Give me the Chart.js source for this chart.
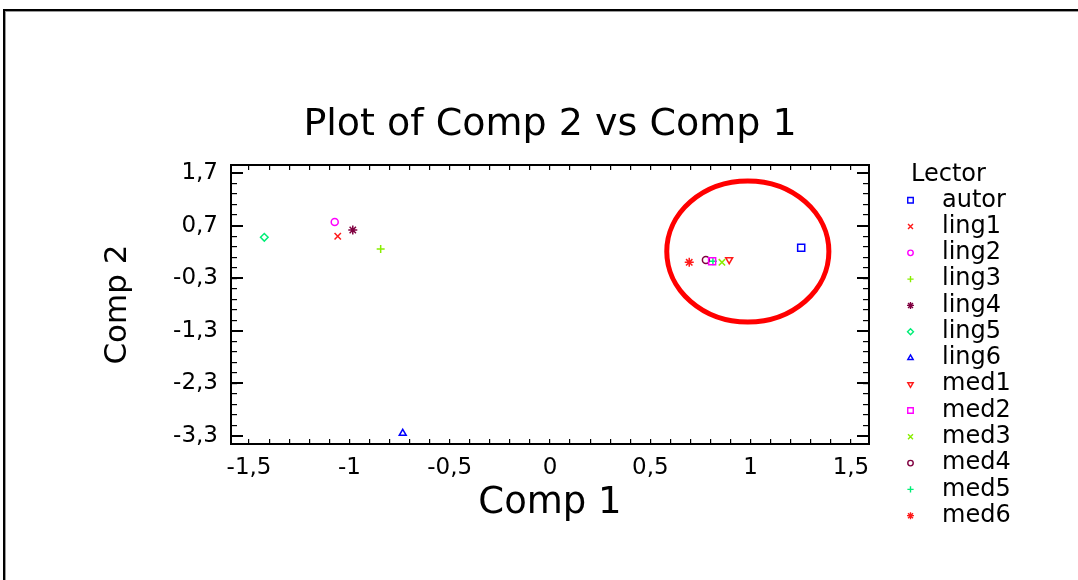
<!DOCTYPE html>
<html><head><meta charset="utf-8">
<script src="https://cdn.jsdelivr.net/npm/chart.js@4/dist/chart.umd.min.js"></script>
<style>html,body{margin:0;padding:0;background:#fff;overflow:hidden}#wrap{position:relative;width:1078px;height:580px}</style>
</head><body><div id="wrap"><canvas id="c" width="1078" height="580"></canvas></div>
<script>
// ---- data ----
const seriesLabels = ['autor','ling1','ling2','ling3','ling4','ling5','ling6','med1','med2','med3','med4','med5','med6'];
const comp1 = [1.252, -1.058, -1.073, -0.844, -0.983, -1.424, -0.734, 0.893, 0.808, 0.857, 0.777, 0.812, 0.694];
const comp2 = [0.280, 0.497, 0.768, 0.255, 0.616, 0.478, -3.249, 0.052, 0.021, 0.002, 0.046, 0.024, 0.002];
const xTickValues = [-1.5, -1, -0.5, 0, 0.5, 1, 1.5];
const yTickValues = [1.7, 0.7, -0.3, -1.3, -2.3, -3.3];
const highlightEllipse = {cx: 0.986, cy: 0.208, rx: 0.404, ry: 1.34};

// ---- styles ----
const seriesColors = ['#0000ff','#ff1a1a','#ff00ff','#88ee00','#800040','#00ee77','#0000ff','#ff1a1a','#ff00ff','#88ee00','#800040','#00ee77','#ff1a1a'];
const seriesMarkers = ['rect','crossRot','circle','cross','star','rectRot','triangle','triangle','rect','crossRot','circle','cross','star'];
const markerRotation = [0,0,0,0,0,0,0,180,0,0,0,0,0];
const markerRadius = [5,4.5,3.5,4,4.5,3.8,4,4,5,4.5,3.5,4,4.5];

const FONT = '"DejaVu Sans", "Liberation Sans", Arial, sans-serif';

const datasets = seriesLabels.map((lab, i) => ({
  label: lab,
  data: [{x: comp1[i], y: comp2[i]}],
  pointStyle: seriesMarkers[i],
  rotation: markerRotation[i],
  pointRadius: markerRadius[i],
  pointHoverRadius: markerRadius[i],
  borderColor: seriesColors[i],
  backgroundColor: 'rgba(0,0,0,0)',
  pointBorderWidth: 1.5
}));

const xMinor = []; for (let i = -15; i <= 15; i++) xMinor.push(i / 10);
const yMinor = []; for (let i = 17; i >= -33; i -= 2) yMinor.push(i / 10);
const fmt = v => String(Math.round(v * 10) / 10).replace('.', ',');
const isMajorX = v => xTickValues.some(t => Math.abs(t - v) < 1e-6);

const frame = {
  id: 'frame',
  beforeDraw(chart) {
    const ctx = chart.ctx;
    ctx.save();
    ctx.fillStyle = '#fff';
    ctx.fillRect(0, 0, chart.width, chart.height);
    ctx.fillStyle = '#000';
    ctx.fillRect(3, 9, chart.width - 3, 2);
    ctx.fillRect(3, 9, 2, chart.height - 9);
    ctx.fillStyle = '#9a9a9a';
    ctx.fillRect(5, 11, chart.width - 5, 1);
    ctx.fillRect(5, 11, 1, chart.height - 11);
    ctx.restore();
  }
};

const ellipsePlugin = {
  id: 'ellipse',
  afterDatasetsDraw(chart) {
    const xs = chart.scales.x, ys = chart.scales.y, ctx = chart.ctx;
    const cx = xs.getPixelForValue(highlightEllipse.cx);
    const cy = ys.getPixelForValue(highlightEllipse.cy);
    const rx = Math.abs(xs.getPixelForValue(highlightEllipse.cx + highlightEllipse.rx) - cx);
    const ry = Math.abs(ys.getPixelForValue(highlightEllipse.cy + highlightEllipse.ry) - cy);
    ctx.save();
    ctx.strokeStyle = '#ff0000';
    ctx.lineWidth = 5;
    ctx.beginPath();
    ctx.ellipse(cx, cy, rx, ry, 0, 0, Math.PI * 2);
    ctx.stroke();
    ctx.restore();
  }
};

const legendPlugin = {
  id: 'customLegend',
  afterDraw(chart) {
    const ctx = chart.ctx;
    ctx.save();
    ctx.fillStyle = '#000';
    ctx.textBaseline = 'middle';
    ctx.textAlign = 'left';
    ctx.font = '24px ' + FONT;
    ctx.fillText('Lector', 911, 175);
    chart.data.datasets.forEach((ds, i) => {
      const y = 200.3 + i * 26.28;
      ctx.strokeStyle = ds.borderColor;
      ctx.fillStyle = 'rgba(0,0,0,0)';
      ctx.lineWidth = 1.4;
      Chart.helpers.drawPoint(ctx, {pointStyle: ds.pointStyle, rotation: ds.rotation, radius: ds.pointRadius * 0.78, borderWidth: 1.4}, 910.5, y);
      ctx.fillStyle = '#000';
      ctx.fillText(ds.label, 942, y);
    });
    ctx.restore();
  }
};

const tickFont = {family: FONT, size: 23};

new Chart(document.getElementById('c'), {
  type: 'scatter',
  data: {datasets},
  plugins: [frame, ellipsePlugin, legendPlugin],
  options: {
    responsive: false,
    animation: false,
    events: [],
    layout: {padding: {left: 22, right: 0, top: 0, bottom: 0}},
    plugins: {
      legend: {display: false},
      tooltip: {enabled: false},
      title: {
        display: true,
        text: 'Plot of Comp 2 vs Comp 1',
        color: '#000',
        font: {family: FONT, size: 38, weight: 'normal', lineHeight: 1.2},
        padding: {top: 102, bottom: 17.4}
      }
    },
    scales: {
      x: {
        type: 'linear', position: 'bottom', min: -1.59, max: 1.59,
        afterBuildTicks: s => { s.ticks = xMinor.map(v => ({value: v})); },
        afterFit: s => { s.height = 136; },
        ticks: {autoSkip: false, maxRotation: 0, color: '#000', font: tickFont, padding: 15,
          callback: v => isMajorX(v) ? fmt(v) : ''},
        grid: {drawOnChartArea: false, tickLength: -5, color: '#000', tickColor: '#000', lineWidth: 1.2},
        border: {display: true, color: '#000', width: 2},
        title: {display: true, text: 'Comp 1', color: '#000', font: {family: FONT, size: 37, lineHeight: 1.2}, padding: {top: 0, bottom: 54}}
      },
      x2: {
        type: 'linear', position: 'top', min: -1.59, max: 1.59,
        afterBuildTicks: s => { s.ticks = xMinor.map(v => ({value: v})); },
        afterFit: s => { s.height = 0; },
        ticks: {display: false},
        grid: {drawOnChartArea: false, tickLength: -5, color: '#000', tickColor: '#000', lineWidth: 1.2},
        border: {display: true, color: '#000', width: 2}
      },
      y: {
        type: 'linear', position: 'left', min: -3.452, max: 1.852, weight: 1,
        afterBuildTicks: s => { s.ticks = yTickValues.map(v => ({value: v})); },
        afterFit: s => { s.width = 209; },
        ticks: {autoSkip: false, color: '#000', font: tickFont, padding: 25, callback: v => fmt(v)},
        grid: {drawOnChartArea: false, tickLength: -12, color: '#000', tickColor: '#000', lineWidth: 2},
        border: {display: true, color: '#000', width: 2},
        title: {display: true, text: 'Comp 2', color: '#000', font: {family: FONT, size: 31, lineHeight: 1.2}, padding: {top: 77, bottom: 0}}
      },
      y2: {
        type: 'linear', position: 'left', min: -3.452, max: 1.852, weight: 0,
        afterBuildTicks: s => { s.ticks = yMinor.map(v => ({value: v})); },
        afterFit: s => { s.width = 0; },
        ticks: {display: false},
        grid: {drawOnChartArea: false, tickLength: -6, color: '#000', tickColor: '#000', lineWidth: 1.2},
        border: {display: false}
      },
      y3: {
        type: 'linear', position: 'right', min: -3.452, max: 1.852, weight: 1,
        afterBuildTicks: s => { s.ticks = yTickValues.map(v => ({value: v})); },
        afterFit: s => { s.width = 209; },
        ticks: {display: false},
        grid: {drawOnChartArea: false, tickLength: -12, color: '#000', tickColor: '#000', lineWidth: 2},
        border: {display: true, color: '#000', width: 2}
      },
      y4: {
        type: 'linear', position: 'right', min: -3.452, max: 1.852, weight: 0,
        afterBuildTicks: s => { s.ticks = yMinor.map(v => ({value: v})); },
        afterFit: s => { s.width = 0; },
        ticks: {display: false},
        grid: {drawOnChartArea: false, tickLength: -6, color: '#000', tickColor: '#000', lineWidth: 1.2},
        border: {display: false}
      }
    }
  }
});
</script>
</body></html>
